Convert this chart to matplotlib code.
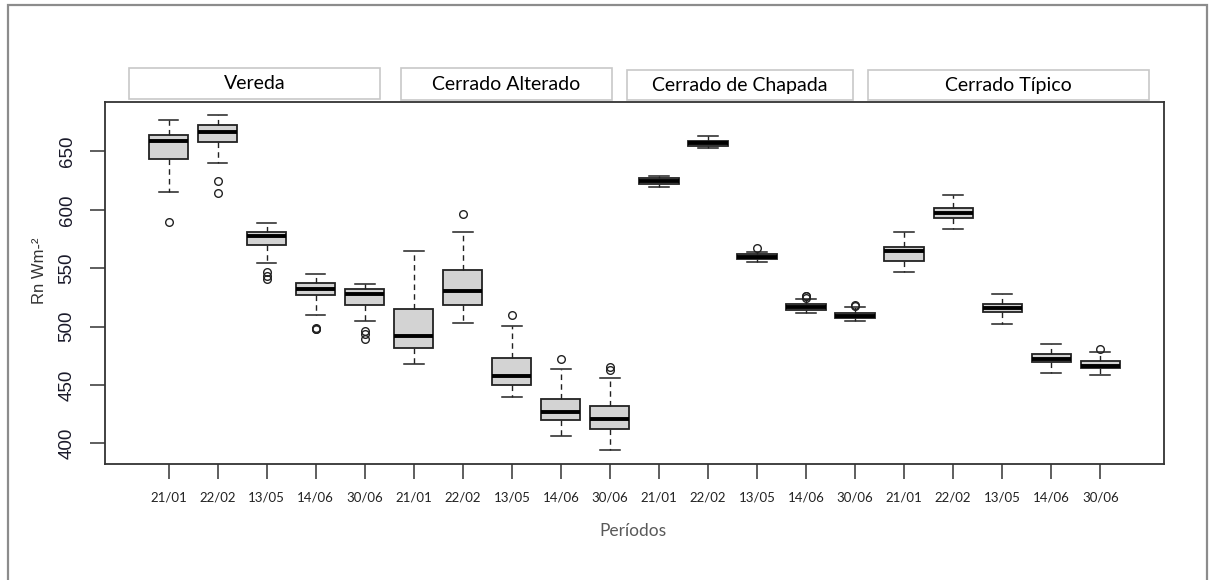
import matplotlib.pyplot as plt
from matplotlib.patches import Rectangle

#data
sites = ["Vereda", "Cerrado Alterado", "Cerrado de Chapada", "Cerrado Típico"]
dates = ["21/01", "22/02", "13/05", "14/06", "30/06"]

whislo = [615.7, 640.0, 554.3, 510.0, 504.8,
          467.9, 503.4, 440.0, 406.4, 394.0,
          619.5, 653.2, 555.0, 511.9, 504.5,
          547.1, 583.7, 502.5, 460.5, 458.5]
q1 = [643.5, 658.3, 570.0, 526.9, 518.5,
      481.7, 518.3, 449.6, 419.6, 411.9,
      622.3, 654.9, 558.0, 514.5, 507.1,
      556.3, 593.1, 512.3, 469.9, 464.8]
med = [658.6, 667.0, 577.7, 532.0, 528.0,
       492.0, 530.3, 457.4, 426.8, 420.5,
       624.9, 656.9, 560.0, 516.8, 509.4,
       564.6, 597.7, 515.7, 472.0, 466.2]
q3 = [664.0, 672.6, 581.4, 537.7, 532.0,
      515.0, 548.8, 473.1, 437.9, 431.6,
      627.2, 659.2, 562.0, 519.2, 511.7,
      568.3, 601.7, 519.4, 476.5, 470.8]
whishi = [676.6, 680.9, 588.6, 544.9, 536.3,
          564.6, 580.6, 500.3, 463.4, 455.9,
          629.4, 662.9, 564.2, 523.7, 516.5,
          580.9, 613.1, 527.7, 484.8, 478.0]
fliers = [[590.0], [624.3, 614.3], [547.0, 543.5, 540.5], [497.5, 498.2, 499.0], [496.5, 493.4, 489.5],
          [], [596.6], [509.7], [472.0], [465.6, 462.8],
          [], [], [567.7], [524.8, 525.8, 526.5], [517.2, 518.3],
          [], [], [], [], [480.5]]

#build stats for bxp
stats = []
for i in range(len(med)):
    stats.append(dict(whislo=whislo[i], q1=q1[i], med=med[i], q3=q3[i],
                      whishi=whishi[i], fliers=fliers[i]))
pos = list(range(1, len(stats) + 1))

W, H = 1210, 580
fig = plt.figure(figsize=(W / 100, H / 100), dpi=100)
ax = fig.add_axes([104.8 / W, 1 - 463.7 / H, (1164 - 104.8) / W, (463.7 - 102) / H])

ax.bxp(stats, positions=pos, widths=0.8, capwidths=0.4, patch_artist=True,
       boxprops=dict(facecolor="#d3d3d3", edgecolor="#222222", linewidth=1.3),
       medianprops=dict(color="black", linewidth=2.8, solid_capstyle="butt"),
       whiskerprops=dict(color="#222222", linewidth=1.0, linestyle=(0, (4, 3))),
       capprops=dict(color="#222222", linewidth=1.1),
       flierprops=dict(marker="o", markersize=5.5, markerfacecolor="none",
                       markeredgecolor="#222222", markeredgewidth=1.0))

#R style limits (4% padding)
allv = whislo + whishi + [f for fl in fliers for f in fl]
lo, hi = min(allv), max(allv)
pad = 0.04 * (hi - lo)
ax.set_ylim(lo - pad, hi + pad)
ax.set_xlim(0.5 - 0.04 * len(pos), len(pos) + 0.5 + 0.04 * len(pos))

ax.set_yticks([400, 450, 500, 550, 600, 650])
ax.set_yticklabels(["400", "450", "500", "550", "600", "650"],
                   rotation=90, va="center", family="Liberation Sans", fontsize=13.5, color="#1a1a2a")
ax.set_xticks(pos)
ax.set_xticklabels(dates * len(sites), family="Lato", fontsize=9.5, color="#222222")
ax.tick_params(axis="both", direction="out", length=11, width=1.1, color="#333333")
ax.tick_params(axis="y", pad=10)
ax.tick_params(axis="x", pad=9)
for s in ax.spines.values():
    s.set_linewidth(1.3)
    s.set_color("#333333")

fig.text(40 / W, 1 - 271 / H, "Rn Wm-²", rotation=90, ha="center", va="center",
         family="Liberation Sans", fontsize=12, color="#333333")
fig.text(633 / W, 1 - 531 / H, "Períodos", ha="center", va="center",
         family="Lato", fontsize=12.5, color="#595959")

#strip labels above the panel
strip_px = [(129, 380, 68, 99), (401, 612, 68, 100), (627, 853, 70, 100), (868, 1149, 70, 100)]
for name, (x0, x1, y0, y1) in zip(sites, strip_px):
    fig.patches.append(Rectangle((x0 / W, 1 - y1 / H), (x1 - x0) / W, (y1 - y0) / H,
                                 transform=fig.transFigure, facecolor="white",
                                 edgecolor="#c8c8c8", linewidth=1.2))
    fig.text((x0 + x1) / 2 / W, 1 - (y0 + y1) / 2 / H, name, ha="center", va="center",
             family="Lato", fontsize=14, color="black")

#outer frame
fig.patches.append(Rectangle((8 / W, -0.1), (1207 - 8) / W, 1.1 - 5 / H,
                             transform=fig.transFigure, facecolor="none",
                             edgecolor="#8c8c8c", linewidth=1.6))

plt.savefig("out.png", dpi=100)
